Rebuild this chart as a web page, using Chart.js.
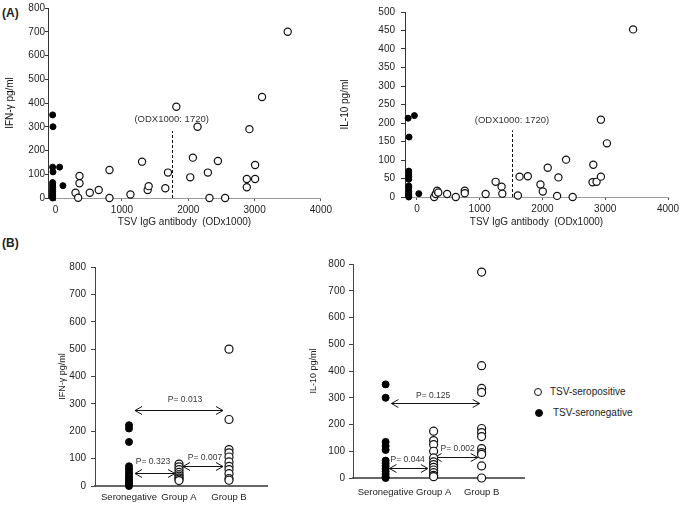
<!DOCTYPE html>
<html>
<head>
<meta charset="utf-8">
<title>TSV IgG antibody and cytokines</title>
<script src="https://cdn.jsdelivr.net/npm/chart.js@4.4.1/dist/chart.umd.min.js"></script>
<style>
  body { margin: 0; background: #fff; font-family: "Liberation Sans", Arial, sans-serif; color: #222; }
  #page { position: relative; width: 683px; height: 508px; overflow: hidden; }
  canvas { position: absolute; }
  .tag { position: absolute; font-weight: bold; font-size: 12px; }
  .key { position: absolute; font-size: 10px; line-height: 12px; white-space: nowrap; }
  .key i { position: absolute; box-sizing: border-box; width: 8px; height: 8px; border-radius: 50%; border: 1px solid #111; }
</style>
</head>
<body>
<div id="page">
  <div class="tag" style="left:2px;top:6px">(A)</div>
  <div class="tag" style="left:2px;top:236px">(B)</div>

  <canvas id="ifnScatter" width="335" height="232" style="left:0;top:0"></canvas>
  <canvas id="il10Scatter" width="348" height="232" style="left:335px;top:0"></canvas>
  <canvas id="ifnGroups" width="247" height="263" style="left:53px;top:245px"></canvas>
  <canvas id="il10Groups" width="226" height="263" style="left:304px;top:245px"></canvas>

  <div class="key" style="left:550px;top:386px"><i style="left:-16px;top:2px;background:#fff"></i>TSV-seropositive</div>
  <div class="key" style="left:553px;top:407px"><i style="left:-18px;top:2px;background:#000"></i>TSV-seronegative</div>
</div>

<script>
// (A) antibody level (ODx1000) vs cytokine, [x, y] pairs
const ifnSeroneg = [[-45,350],[-40,300],[-45,130],[-40,110],[60,130],[110,52],[-45,65],[-45,55],
  [-45,45],[-45,35],[-45,28],[-45,20],[-45,12],[-45,5],[-45,0]];
const ifnSeropos = [[300,22],[340,1],[360,93],[360,62],[515,22],[650,34],[812,118],[812,0],[1128,15],
  [1303,153],[1388,34],[1403,50],[1654,41],[1694,107],[1820,384],[2030,87],[2070,170],[2140,300],
  [2296,107],[2320,0],[2447,156],[2556,0],[2883,80],[2883,45],[2922,290],[3008,139],[3008,80],
  [3113,425],[3500,700]];

const il10Seroneg = [[-140,213],[-40,220],[-125,162],[-130,70],[-130,62],[-130,55],[-130,48],
  [-130,30],[-130,25],[-130,15],[-130,8],[-130,3],[-130,0],[30,9]];
const il10Seropos = [[275,0],[300,8],[322,17],[340,12],[481,8],[619,0],[762,17],[762,10],[1095,8],
  [1254,41],[1349,28],[1360,9],[1608,4],[1635,55],[1767,56],[1968,34],[2005,15],[2084,79],[2233,3],
  [2254,53],[2376,101],[2481,0],[2798,40],[2810,87],[2862,41],[2931,209],[2931,55],[3027,145],
  [3444,453]];

const odTicks = [0, 1000, 2000, 3000, 4000];

// (B) cytokine by group
const groups = ['Seronegative', 'Group A', 'Group B'];
const ifnNeg = [222, 210, 161, 72, 62, 52, 42, 34, 26, 18, 10, 4, 0];
const ifnGroupA = [80, 70, 60, 50, 42, 36, 30, 25, 20];
const ifnGroupB = [500, 243, 133, 121, 106, 88, 72, 60, 45, 27, 21];
const il10Neg = [350, 300, 135, 120, 105, 65, 55, 45, 35, 25, 15, 5, 0];
const il10GroupA = [175, 140, 125, 100, 75, 60, 50, 40, 30, 20, 10, 5];
const il10GroupB = [770, 420, 335, 320, 185, 170, 155, 110, 95, 88, 45, 0];

// P values between groups (x in group position, y in pg/ml)
const ifnTests = [
  {label: 'P= 0.013', from: 1.12, to: 2.88, y: 277, textX: 2.12, textY: 314},
  {label: 'P= 0.323', from: 1.12, to: 1.92, y: 48, textX: 1.48, textY: 88},
  {label: 'P= 0.007', from: 2.08, to: 2.88, y: 72, textX: 2.52, textY: 105}
];
const il10Tests = [
  {label: 'P= 0.125', from: 1.12, to: 2.96, y: 280, textX: 1.99, textY: 308},
  {label: 'P= 0.044', from: 1.08, to: 1.88, y: 37, textX: 1.46, textY: 68},
  {label: 'P= 0.002', from: 2.02, to: 2.92, y: 78, textX: 2.5, textY: 108}
];

const FONT = '"Liberation Sans", Arial, sans-serif';
const NARROW = '"Liberation Sans Narrow", "Arial Narrow", "Liberation Sans", sans-serif';
Chart.defaults.font.family = FONT;
Chart.defaults.color = '#222';

const toPoints = pairs => pairs.map(p => ({x: p[0], y: p[1]}));
const atGroup = (vals, g) => vals.map(v => ({x: g, y: v}));

const openPt = {backgroundColor: '#fff', borderColor: '#111', borderWidth: 1.2, pointRadius: 3.6, clip: false};
const fillPt = {backgroundColor: '#000', borderColor: '#000', borderWidth: 1, pointRadius: 3, clip: false};

// dashed cut-off line and P-value arrows, drawn under the points
const notes = {
  id: 'notes',
  beforeDatasetsDraw(chart, args, opts) {
    const {ctx} = chart, x = chart.scales.x, y = chart.scales.y;
    ctx.save();
    ctx.strokeStyle = '#111';
    ctx.fillStyle = '#333';
    ctx.lineWidth = 1;
    ctx.textAlign = 'center';
    ctx.textBaseline = 'middle';
    if (opts.cutoff) {
      const c = opts.cutoff, px = Math.round(x.getPixelForValue(c.x)) + 0.5;
      ctx.setLineDash([3, 2]);
      ctx.beginPath();
      ctx.moveTo(px, y.getPixelForValue(0));
      ctx.lineTo(px, y.getPixelForValue(c.top));
      ctx.stroke();
      ctx.setLineDash([]);
      ctx.font = '9.5px ' + FONT;
      ctx.fillText(c.text, x.getPixelForValue(c.x), y.getPixelForValue(c.textY));
    }
    ctx.font = '8.5px ' + FONT;
    (opts.tests || []).forEach(t => {
      const x1 = x.getPixelForValue(t.from), x2 = x.getPixelForValue(t.to);
      const py = Math.round(y.getPixelForValue(t.y)) + 0.5;
      ctx.beginPath();
      ctx.moveTo(x1, py); ctx.lineTo(x2, py);
      ctx.moveTo(x1 + 7, py - 4); ctx.lineTo(x1, py); ctx.lineTo(x1 + 7, py + 4);
      ctx.moveTo(x2 - 7, py - 4); ctx.lineTo(x2, py); ctx.lineTo(x2 - 7, py + 4);
      ctx.stroke();
      ctx.fillText(t.label, x.getPixelForValue(t.textX), y.getPixelForValue(t.textY));
    });
    ctx.restore();
  }
};

const scatterPanel = (id, neg, pos, cfg) => new Chart(document.getElementById(id), {
  type: 'scatter',
  data: {datasets: [{data: toPoints(pos), ...openPt}, {data: toPoints(neg), ...fillPt}]},
  plugins: [notes],
  options: {
    responsive: false, animation: false, events: [],
    layout: {padding: {top: 8, right: cfg.padRight, left: 0, bottom: 0}},
    plugins: {legend: {display: false}, tooltip: {enabled: false}, notes: {cutoff: cfg.cutoff}},
    scales: {
      x: {
        type: 'linear', min: cfg.xMin, max: 4000,
        afterBuildTicks: a => { a.ticks = odTicks.map(v => ({value: v})); },
        afterFit: s => { s.height = cfg.xHeight; },
        grid: {drawOnChartArea: false, tickLength: 3, color: '#555'},
        border: {color: '#999'},
        ticks: {font: {size: 10}, padding: 3, maxRotation: 0, autoSkip: false, color: '#222',
          callback: v => String(v)},
        title: {display: true, text: 'TSV IgG antibody  (ODx1000)', font: {size: 10}, padding: {top: 0, bottom: 4}, color: '#222'}
      },
      y: {
        min: 0, max: cfg.yMax,
        afterFit: s => { s.width = cfg.yWidth; },
        grid: {drawOnChartArea: false, tickLength: cfg.yTick, color: '#333'},
        border: {color: '#333'},
        ticks: {stepSize: cfg.yStep, font: {size: 10, family: NARROW}, padding: cfg.yPad, color: '#222'},
        title: {display: true, text: cfg.yTitle, font: {size: 10, family: NARROW}, padding: {top: 4, bottom: 0}, color: '#111'}
      }
    }
  }
});

const groupPanel = (id, neg, a, b, cfg) => new Chart(document.getElementById(id), {
  type: 'scatter',
  data: {datasets: [
    {data: atGroup(a, 2), ...openPt, pointRadius: 4},
    {data: atGroup(b, 3), ...openPt, pointRadius: 4},
    {data: atGroup(neg, 1), ...fillPt, pointRadius: 3.5}
  ]},
  plugins: [notes],
  options: {
    responsive: false, animation: false, events: [],
    layout: {padding: {top: cfg.padTop, right: cfg.padRight, left: 0, bottom: 0}},
    plugins: {legend: {display: false}, tooltip: {enabled: false}, notes: {tests: cfg.tests}},
    scales: {
      x: {
        type: 'linear', min: 0.32, max: cfg.xMax,
        afterBuildTicks: ax => { ax.ticks = groups.map((g, i) => ({value: i + 1})); },
        afterFit: s => { s.height = cfg.xHeight; },
        grid: {display: false, drawTicks: false},
        border: {color: '#666', width: 2},
        ticks: {font: {size: 9.5}, padding: cfg.xPad, maxRotation: 0, autoSkip: false, color: '#222',
          callback: v => groups[v - 1]}
      },
      y: {
        min: 0, max: 800,
        afterFit: s => { s.width = cfg.yWidth; },
        grid: {drawOnChartArea: false, tickLength: 4, color: '#444'},
        border: {color: '#444'},
        ticks: {stepSize: 100, font: {size: 10, family: NARROW}, padding: cfg.yPad, color: '#222'},
        title: {display: true, text: cfg.yTitle, font: {size: 9}, padding: {top: 4, bottom: 0}, color: '#222'}
      }
    }
  }
});

scatterPanel('ifnScatter', ifnSeroneg, ifnSeropos, {
  xMin: -115, yMax: 800, yStep: 100, yWidth: 48, yTick: 3, yPad: 0, xHeight: 34, padRight: 14,
  yTitle: 'IFN-γ pg/ml',
  cutoff: {x: 1750, top: 282, textY: 333, text: '(ODX1000: 1720)'}
});

scatterPanel('il10Scatter', il10Seroneg, il10Seropos, {
  xMin: -190, yMax: 500, yStep: 50, yWidth: 70, yTick: 4, yPad: 6, xHeight: 35, padRight: 15,
  yTitle: 'IL-10 pg/ml',
  cutoff: {x: 1515, top: 180, textY: 207, text: '(ODX1000: 1720)'}
});

groupPanel('ifnGroups', ifnNeg, ifnGroupA, ifnGroupB, {
  padTop: 22, padRight: 33, xHeight: 22, xPad: 6, xMax: 3.76, yWidth: 42, yPad: 5,
  yTitle: 'IFN-γ pg/ml', tests: ifnTests
});

groupPanel('il10Groups', il10Neg, il10GroupA, il10GroupB, {
  padTop: 19, padRight: 5, xHeight: 30, xPad: 9, xMax: 3.9, yWidth: 49, yPad: 4,
  yTitle: 'IL-10 pg/ml', tests: il10Tests
});
</script>
</body>
</html>
